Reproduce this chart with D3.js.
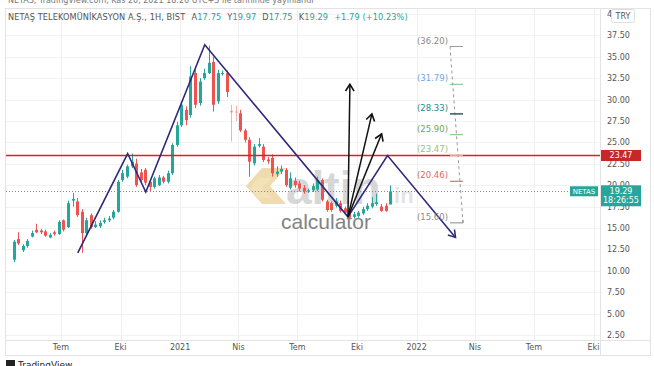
<!DOCTYPE html>
<html><head><meta charset="utf-8">
<script src="https://cdn.jsdelivr.net/npm/d3@7"></script>
<style>
html,body{margin:0;padding:0;background:#fff;overflow:hidden}
svg{display:block;font-family:"DejaVu Sans",Verdana,sans-serif}
</style></head><body>
<svg id="chart" width="654" height="366"></svg>
<script>
// ---------- data ----------
const firstWeek = "2020-04-13";
const open  = [11.3,13.7,12.4,12.9,14.0,14.8,14.7,14.6,13.9,14.5,14.3,15.9,15.1,18.2,18.1,16.9,14.4,16.5,15.1,15.2,15.7,15.9,16.2,16.9,20.6,21.0,22.2,22.55,21.5,21.8,20.4,19.8,20.0,20.9,20.4,21.4,24.7,27.0,28.8,28.2,33.1,29.6,32.5,33.1,34.4,29.8,33.0,33.1,28.7,28.6,28.4,26.4,25.3,22.55,24.6,24.5,23.0,23.2,21.3,21.6,21.8,19.7,20.5,20.2,19.7,19.3,19.4,19.5,20.6,18.1,17.9,17.6,17.9,17.3,17.0,16.3,16.4,16.7,17.2,17.5,17.8,17.5,17.6,17.75];
const high  = [13.6,14.5,13.1,13.7,14.7,15.5,14.9,14.8,14.4,14.7,15.9,16.0,18.2,19.1,18.5,17.2,16.2,16.7,15.8,15.9,16.2,16.4,17.1,20.6,21.8,22.4,23.7,23.1,21.9,22.0,20.6,21.0,21.2,21.1,21.7,24.9,27.4,29.8,29.2,33.9,33.5,32.5,33.6,36.3,35.0,33.5,33.4,33.4,29.4,29.3,28.8,26.6,25.6,24.8,25.5,24.8,23.3,23.6,22.2,22.3,22.0,21.5,20.9,20.5,20.0,19.6,20.2,21.0,20.8,18.3,18.1,18.5,18.2,17.5,17.2,16.9,17.0,17.5,17.9,18.6,19.0,17.8,17.9,19.97];
const low   = [11.0,13.0,12.2,12.7,13.9,14.4,14.3,14.0,13.8,14.1,14.2,14.6,15.0,17.5,16.3,12.1,14.2,14.9,15.0,15.0,15.5,15.7,16.0,16.8,20.4,20.8,22.0,19.8,20.3,20.0,19.2,19.6,19.9,20.2,20.2,21.2,24.5,26.8,27.0,27.9,29.0,29.3,32.3,33.0,28.6,29.5,32.8,30.3,25.1,27.5,26.2,25.0,21.0,22.3,24.4,22.7,22.5,21.0,21.0,21.3,19.8,19.5,19.7,19.3,19.0,19.1,19.2,19.3,18.1,16.9,16.9,17.4,16.8,16.6,16.2,16.1,16.2,16.5,17.0,17.3,17.6,16.9,16.9,17.75];
const close = [13.4,13.2,12.9,13.5,14.4,14.5,14.5,14.1,14.2,14.3,15.7,14.8,17.9,18.4,16.5,14.4,15.9,15.1,15.4,15.6,15.9,16.1,16.9,20.4,21.4,22.2,22.75,20.0,20.6,20.3,19.8,20.8,20.9,20.4,21.4,24.7,27.0,29.4,27.6,32.7,29.4,32.1,33.1,34.3,29.4,33.1,33.1,30.9,28.5,28.5,26.4,25.3,22.75,24.5,24.8,22.95,22.8,21.4,21.6,21.9,20.0,20.8,20.0,19.6,19.3,19.4,19.9,20.6,18.3,17.1,17.1,18.1,17.0,16.8,16.2,16.6,16.8,17.2,17.6,17.9,18.0,17.0,17.0,19.29];
const yTicks = [2.5,5,7.5,10,12.5,15,17.5,20,22.5,25,27.5,30,32.5,35,37.5,40];
const xTickDates = ["2020-07-01","2020-10-01","2021-01-01","2021-04-01","2021-07-01","2021-10-01","2022-01-01","2022-04-01","2022-07-01","2022-10-01"];
const xTickLabels = ["Tem","Eki","2021","Nis","Tem","Eki","2022","Nis","Tem","Eki"];
const patternDates = ["2020-07-27","2020-10-12","2020-11-09","2021-02-08","2021-09-17","2021-11-17","2022-03-02"];
const patternValues = [12.1,23.7,19.2,36.4,16.3,23.47,13.9];
const arrowTipDates = ["2021-09-20","2021-10-24","2021-11-08"];
const arrowTipValues = [31.79,28.33,26.0];
const levelValues = [36.20,31.79,28.33,25.90,23.47,20.46,15.60];
const levelTextColors = ["#8a8a8a","#6fa8dc","#2a8a8a","#6aa84f","#93c47d","#e06666","#8a8a8a"];
const levelLineColors = ["#9a9a9a","#7cbf8c","#2d5f5f","#7cbf7c","#a0c8a0","#c06060","#8a8a8a"];
const resistance = 23.47;
const lastPrice = 19.29;

// ---------- scales ----------
const parse = d3.utcParse("%Y-%m-%d");
const svg = d3.select("#chart");
const plotB = 340;
const x = d3.scaleUtc().domain([parse("2020-03-29"), parse("2022-10-11")]).range([0, 600]);
const y = d3.scaleLinear().domain([0, 40]).range([356.4, 14]);
const weeks = d3.utcWeek.every(1).range(parse(firstWeek), d3.utcDay.offset(parse(firstWeek), 7*open.length)).slice(0, open.length);
const candles = weeks.map((d,i)=>({d, o:open[i], h:high[i], l:low[i], c:close[i]}));

// top cut-off caption
svg.append("text").attr("x",8).attr("y",3).attr("font-size",8).attr("fill","#777")
  .text("NETAS, TradingView.com, Kas 20, 2021 18:26 UTC+3 ile tarihinde yayınlandı");

// frame
svg.append("rect").attr("x",5.5).attr("y",8.5).attr("width",645).attr("height",347).attr("fill","#fff").attr("stroke","#e3e3e3");

svg.append("clipPath").attr("id","plotclip").append("rect")
  .attr("x",6).attr("y",9).attr("width",594).attr("height",plotB-9);
const g = svg.append("g").attr("clip-path","url(#plotclip)");

// grid
g.selectAll(".hg").data(yTicks).join("line")
  .attr("x1",6).attr("x2",600).attr("y1",d=>Math.round(y(d))+0.5).attr("y2",d=>Math.round(y(d))+0.5)
  .attr("stroke","#f2f2f2");
g.selectAll(".vg").data(xTickDates).join("line")
  .attr("x1",d=>Math.round(x(parse(d)))+0.5).attr("x2",d=>Math.round(x(parse(d)))+0.5)
  .attr("y1",9).attr("y2",plotB).attr("stroke","#efefef");

// watermark
const wm = g.append("g");
wm.append("path").attr("d","M262,168 L286,168 L270,186 L286,204 L262,204 L246,186 Z").attr("fill","#e9cf92").attr("opacity",0.75);
wm.append("path").attr("d","M258,178 L272,178 L262,188 L272,198 L258,198 L250,188 Z").attr("fill","#f3e2b8").attr("opacity",0.9);
wm.append("text").attr("x",286).attr("y",204).attr("font-size",46).attr("font-weight","bold")
  .attr("fill","#b8b8b8").attr("opacity",0.55).attr("font-family","Liberation Sans, Arial, sans-serif").text("altin");
wm.append("text").attr("x",388).attr("y",203).attr("font-size",22).attr("font-weight","bold")
  .attr("fill","#c8c8c8").attr("opacity",0.5).attr("font-family","Liberation Sans, Arial, sans-serif").text(".in");
wm.append("text").attr("x",281).attr("y",229).attr("font-size",21)
  .attr("fill","#6e6e6e").attr("opacity",0.85).attr("font-family","Liberation Sans, Arial, sans-serif").text("calculator");

// candles
const up = "#26a69a", dn = "#ef5350";
const cg = g.append("g");
cg.selectAll("line").data(candles).join("line")
  .attr("x1",d=>Math.round(x(d.d))+0.5).attr("x2",d=>Math.round(x(d.d))+0.5)
  .attr("y1",d=>y(d.h)).attr("y2",d=>y(d.l))
  .attr("stroke",d=>d.c>=d.o?up:dn).attr("opacity",(d,i)=>(i===48||i===49)?0.45:1);
cg.selectAll("rect").data(candles).join("rect")
  .attr("x",d=>Math.round(x(d.d))-1).attr("width",3)
  .attr("y",d=>y(Math.max(d.o,d.c))).attr("height",d=>Math.max(1,Math.abs(y(d.o)-y(d.c))))
  .attr("fill",d=>d.c>=d.o?up:dn).attr("opacity",(d,i)=>(i===48||i===49)?0.45:1);

// resistance & last price lines
g.append("line").attr("x1",6).attr("x2",600).attr("y1",Math.round(y(resistance))+0.5).attr("y2",Math.round(y(resistance))+0.5)
  .attr("stroke","#e0201c").attr("stroke-width",1.3);
g.append("line").attr("x1",6).attr("x2",600).attr("y1",Math.round(y(lastPrice))+0.5).attr("y2",Math.round(y(lastPrice))+0.5)
  .attr("stroke","#888").attr("stroke-dasharray","1,2");

// pattern zigzag
const pts = patternDates.map((d,i)=>[x(parse(d)), y(patternValues[i])]);
const navy = "#2e2a7a";
g.append("path").attr("d",d3.line()(pts)).attr("fill","none").attr("stroke",navy).attr("stroke-width",1.6);
function arrowHead(p0,p1,color,len){
  const ang = Math.atan2(p1[1]-p0[1], p1[0]-p0[0]);
  const a1 = ang+Math.PI*0.82, a2 = ang-Math.PI*0.82;
  g.append("path").attr("d",`M${p1[0]+len*Math.cos(a1)},${p1[1]+len*Math.sin(a1)}L${p1[0]},${p1[1]}L${p1[0]+len*Math.cos(a2)},${p1[1]+len*Math.sin(a2)}`)
   .attr("fill","none").attr("stroke",color).attr("stroke-width",1.6);
}
arrowHead(pts[pts.length-2], pts[pts.length-1], navy, 8);

// black arrows from pivot
const pivot = pts[4];
arrowTipDates.forEach((d,i)=>{
  const tip = [x(parse(d)), y(arrowTipValues[i])];
  g.append("line").attr("x1",pivot[0]).attr("y1",pivot[1]).attr("x2",tip[0]).attr("y2",tip[1])
    .attr("stroke","#111").attr("stroke-width",1.5);
  arrowHead(pivot, tip, "#111", 8);
});

// projection levels
const lvX1 = 450, lvX2 = 463;
g.append("line").attr("x1",lvX1).attr("y1",y(levelValues[0])).attr("x2",lvX2).attr("y2",y(levelValues[levelValues.length-1]))
  .attr("stroke","#999").attr("stroke-dasharray","3,3");
levelValues.forEach((v,i)=>{
  g.append("line").attr("x1",lvX1).attr("x2",lvX2).attr("y1",y(v)).attr("y2",y(v))
    .attr("stroke",levelLineColors[i]).attr("stroke-width",i===2?1.5:1);
  g.append("text").attr("x",448).attr("y",y(v)-3).attr("text-anchor","end").attr("font-size",8.5)
    .attr("fill",levelTextColors[i]).text("("+v.toFixed(2)+")");
});
g.append("line").attr("x1",lvX2).attr("x2",lvX2).attr("y1",y(15.6)-3).attr("y2",y(15.6)).attr("stroke","#8a8a8a");

// NETAS label
g.append("rect").attr("x",570).attr("y",y(lastPrice)-5).attr("width",28).attr("height",10).attr("fill","#26a69a");
g.append("text").attr("x",584).attr("y",y(lastPrice)+3).attr("text-anchor","middle").attr("font-size",7).attr("fill","#fff").text("NETAS");

// right axis
svg.append("line").attr("x1",600.5).attr("x2",600.5).attr("y1",9).attr("y2",355).attr("stroke","#e3e3e3");
svg.append("line").attr("x1",6).attr("x2",650).attr("y1",340.5).attr("y2",340.5).attr("stroke","#e3e3e3");
const ya = svg.append("g");
ya.selectAll("text").data(yTicks.filter(d=>y(d)<336)).join("text")
  .attr("x",607).attr("y",d=>y(d)+3).attr("font-size",8).attr("fill","#555")
  .text(d=>d===40?"40":d.toFixed(2));
// TRY box
svg.append("rect").attr("x",611.5).attr("y",9.5).attr("width",23).attr("height",13).attr("rx",2).attr("fill","#fff").attr("stroke","#ddd");
svg.append("text").attr("x",623).attr("y",19).attr("text-anchor","middle").attr("font-size",8).attr("fill","#555").text("TRY");
// price boxes
svg.append("rect").attr("x",601).attr("y",y(resistance)-5.5).attr("width",40).attr("height",11).attr("fill","#c62828");
svg.append("text").attr("x",621).attr("y",y(resistance)+3).attr("text-anchor","middle").attr("font-size",8).attr("fill","#fff").text(resistance.toFixed(2));
svg.append("rect").attr("x",601).attr("y",y(lastPrice)-6).attr("width",40).attr("height",21).attr("fill","#26a69a");
svg.append("text").attr("x",621).attr("y",y(lastPrice)+3).attr("text-anchor","middle").attr("font-size",8).attr("fill","#fff").text(lastPrice.toFixed(2));
svg.append("text").attr("x",621).attr("y",y(lastPrice)+12).attr("text-anchor","middle").attr("font-size",8).attr("fill","#fff").text("18:26:55");

// x axis labels
svg.selectAll(".xl").data(xTickDates).join("text")
  .attr("x",d=>x(parse(d))).attr("y",350).attr("text-anchor","middle").attr("font-size",8).attr("fill","#555")
  .text((d,i)=>xTickLabels[i]);

// header
const hd = svg.append("text").attr("x",8).attr("y",20).attr("font-size",8.2).attr("letter-spacing",0.1)
  .attr("fill","#555").style("white-space","pre");
hd.append("tspan").text("NETAŞ TELEKOMÜNİKASYON A.Ş., 1H, BIST");
const hv = [["A","17.75"],["Y","19.97"],["D","17.75"],["K","19.29"]];
hv.forEach((p,i)=>{ hd.append("tspan").attr("dx",i===0?7:6).attr("fill","#555").text(p[0]); hd.append("tspan").attr("fill","#26a69a").text(p[1]); });
hd.append("tspan").attr("dx",6).attr("fill","#26a69a").text("+1.79 (+10.23%)");

// TradingView footer
svg.append("rect").attr("x",6).attr("y",360).attr("width",9).attr("height",6).attr("fill","#222");
svg.append("text").attr("x",18).attr("y",368).attr("font-size",9).attr("fill","#222").text("TradingView");
</script>
</body></html>
